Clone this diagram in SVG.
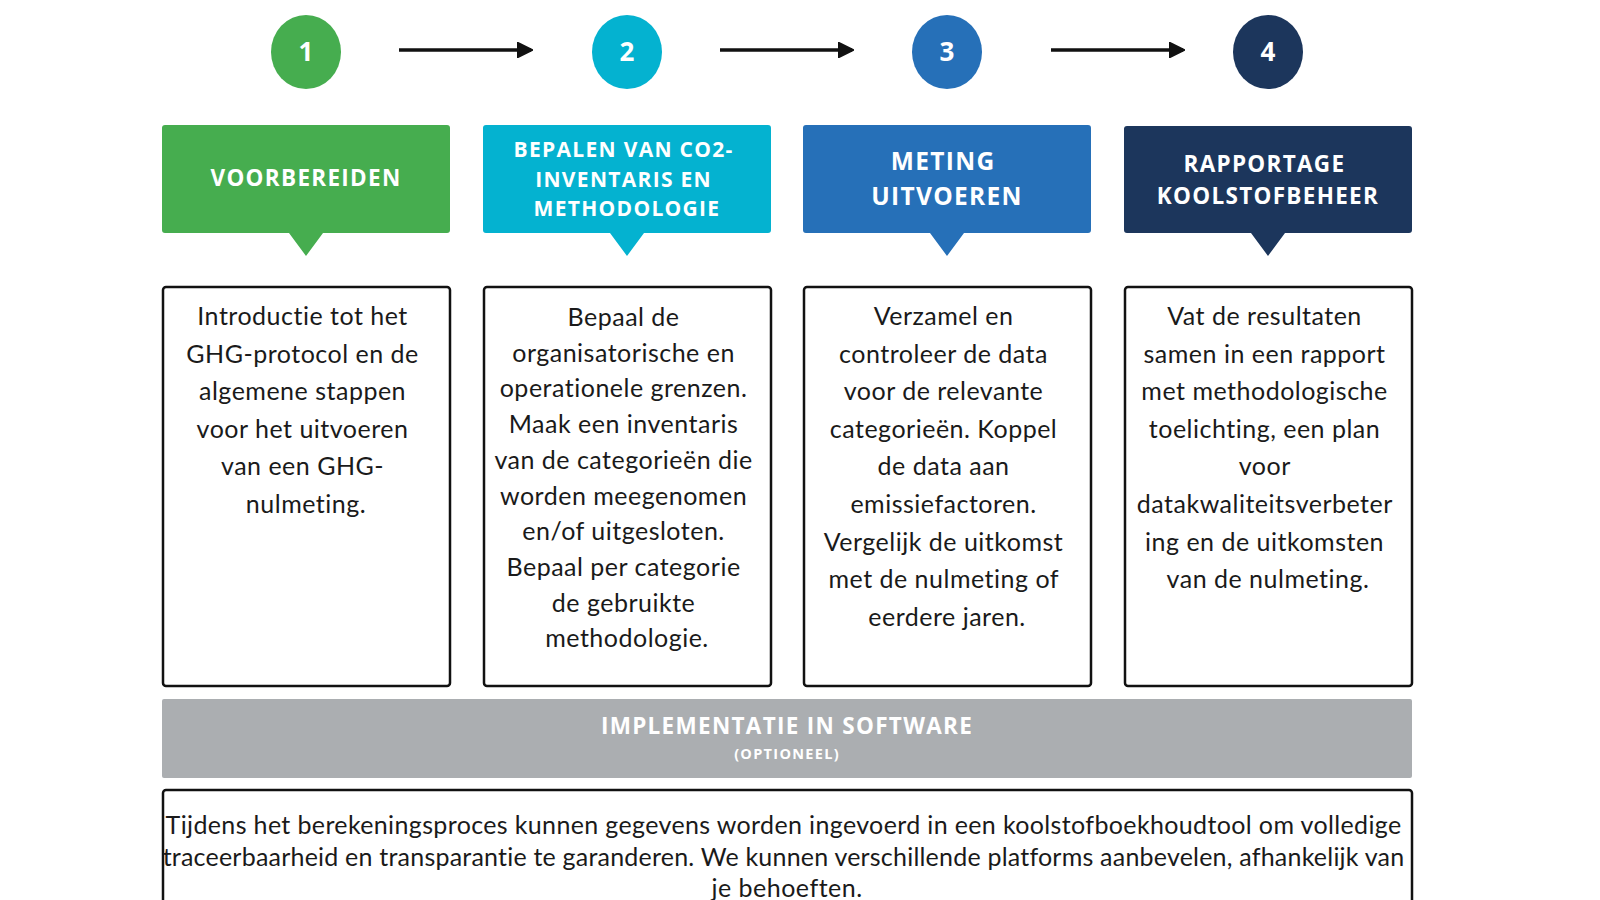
<svg xmlns="http://www.w3.org/2000/svg" width="1600" height="900" viewBox="0 0 1600 900">
<defs>
<marker id="ah" viewBox="0 0 10 10" refX="9" refY="5" markerWidth="4.5" markerHeight="4.5" orient="auto" markerUnits="strokeWidth">
<path d="M0,0 L10,5 L0,10 z" fill="#111" stroke="#111" stroke-width="1" stroke-linejoin="round"/>
</marker>
<style>
.num{font-family:"Open Sans","Liberation Sans",sans-serif;font-weight:700;font-size:26px;fill:#fff;text-anchor:middle}
.hd{font-family:"Open Sans","Liberation Sans",sans-serif;font-weight:700;fill:#fff;text-anchor:middle;letter-spacing:1.3px}
.box{fill:#fff;stroke:#111;stroke-width:2.5}
.body{font-family:Lato,"Noto Sans",sans-serif;font-size:25px;letter-spacing:0.5px;fill:#1a1a1a;text-anchor:middle}
.conn{stroke:#111;stroke-width:3.5;fill:none}
</style>
</defs>
<rect width="1600" height="900" fill="#fff"/>
<g id="connectors">
<line class="conn" x1="399" y1="50" x2="531" y2="50" marker-end="url(#ah)"/>
<line class="conn" x1="720" y1="50" x2="852" y2="50" marker-end="url(#ah)"/>
<line class="conn" x1="1051" y1="50" x2="1183" y2="50" marker-end="url(#ah)"/>
</g>
<g id="step1">
<ellipse cx="306" cy="52" rx="35" ry="37" fill="#46ad4f"/>
<text class="num" x="306" y="61">1</text>
<path d="M165,125 h282 a3,3 0 0 1 3,3 v102 a3,3 0 0 1 -3,3 h-124 l-17,23 l-17,-23 h-124 a3,3 0 0 1 -3,-3 v-102 a3,3 0 0 1 3,-3 z" fill="#46ad4f"/>
<text class="hd" x="306" y="186" font-size="22.5">VOORBEREIDEN</text>
<rect class="box" x="163" y="287" width="287" height="399" rx="3"/>
<text class="body">
<tspan x="306" y="325">Introductie tot het</tspan>
<tspan x="306" y="362.6">GHG-protocol en de</tspan>
<tspan x="306" y="400.2">algemene stappen</tspan>
<tspan x="306" y="437.8">voor het uitvoeren</tspan>
<tspan x="306" y="475.4">van een GHG-</tspan>
<tspan x="306" y="513">nulmeting.</tspan>
</text>
</g>
<g id="step2">
<ellipse cx="627" cy="52" rx="35" ry="37" fill="#04b2d0"/>
<text class="num" x="627" y="61">2</text>
<path d="M486,125 h282 a3,3 0 0 1 3,3 v102 a3,3 0 0 1 -3,3 h-124 l-17,23 l-17,-23 h-124 a3,3 0 0 1 -3,-3 v-102 a3,3 0 0 1 3,-3 z" fill="#04b2d0"/>
<text class="hd" font-size="21">
<tspan x="627" y="157">BEPALEN VAN CO2-</tspan>
<tspan x="627" y="187">INVENTARIS EN</tspan>
<tspan x="627" y="216">METHODOLOGIE</tspan>
</text>
<rect class="box" x="484" y="287" width="287" height="399" rx="3"/>
<text class="body">
<tspan x="627" y="326">Bepaal de</tspan>
<tspan x="627" y="361.7">organisatorische en</tspan>
<tspan x="627" y="397.4">operationele grenzen.</tspan>
<tspan x="627" y="433.1">Maak een inventaris</tspan>
<tspan x="627" y="468.8">van de categorieën die</tspan>
<tspan x="627" y="504.5">worden meegenomen</tspan>
<tspan x="627" y="540.2">en/of uitgesloten.</tspan>
<tspan x="627" y="575.9">Bepaal per categorie</tspan>
<tspan x="627" y="611.6">de gebruikte</tspan>
<tspan x="627" y="647.3">methodologie.</tspan>
</text>
</g>
<g id="step3">
<ellipse cx="947" cy="52" rx="35" ry="37" fill="#2670b8"/>
<text class="num" x="947" y="61">3</text>
<path d="M806,125 h282 a3,3 0 0 1 3,3 v102 a3,3 0 0 1 -3,3 h-124 l-17,23 l-17,-23 h-124 a3,3 0 0 1 -3,-3 v-102 a3,3 0 0 1 3,-3 z" fill="#2670b8"/>
<text class="hd" font-size="24.5">
<tspan x="947" y="170">METING</tspan>
<tspan x="947" y="205">UITVOEREN</tspan>
</text>
<rect class="box" x="804" y="287" width="287" height="399" rx="3"/>
<text class="body">
<tspan x="947" y="325">Verzamel en</tspan>
<tspan x="947" y="362.6">controleer de data</tspan>
<tspan x="947" y="400.2">voor de relevante</tspan>
<tspan x="947" y="437.8">categorieën. Koppel</tspan>
<tspan x="947" y="475.4">de data aan</tspan>
<tspan x="947" y="513">emissiefactoren.</tspan>
<tspan x="947" y="550.6">Vergelijk de uitkomst</tspan>
<tspan x="947" y="588.2">met de nulmeting of</tspan>
<tspan x="947" y="625.8">eerdere jaren.</tspan>
</text>
</g>
<g id="step4">
<ellipse cx="1268" cy="52" rx="35" ry="37" fill="#1c365c"/>
<text class="num" x="1268" y="61">4</text>
<path d="M1127,126 h282 a3,3 0 0 1 3,3 v101 a3,3 0 0 1 -3,3 h-124 l-17,23 l-17,-23 h-124 a3,3 0 0 1 -3,-3 v-101 a3,3 0 0 1 3,-3 z" fill="#1c365c"/>
<text class="hd" font-size="22.5">
<tspan x="1268" y="172">RAPPORTAGE</tspan>
<tspan x="1268" y="204">KOOLSTOFBEHEER</tspan>
</text>
<rect class="box" x="1125" y="287" width="287" height="399" rx="3"/>
<text class="body">
<tspan x="1268" y="325">Vat de resultaten</tspan>
<tspan x="1268" y="362.6">samen in een rapport</tspan>
<tspan x="1268" y="400.2">met methodologische</tspan>
<tspan x="1268" y="437.8">toelichting, een plan</tspan>
<tspan x="1268" y="475.4">voor</tspan>
<tspan x="1268" y="513">datakwaliteitsverbeter</tspan>
<tspan x="1268" y="550.6">ing en de uitkomsten</tspan>
<tspan x="1268" y="588.2">van de nulmeting.</tspan>
</text>
</g>
<g id="software">
<rect x="162" y="699" width="1250" height="79" rx="2" fill="#abaeb1"/>
<text class="hd" x="787" y="734" font-size="22.5">IMPLEMENTATIE IN SOFTWARE</text>
<text class="hd" x="787" y="759" font-size="14.5" letter-spacing="1.2">(OPTIONEEL)</text>
</g>
<g id="description">
<rect class="box" x="163" y="790" width="1249" height="130" rx="3"/>
<text class="body" font-size="22" letter-spacing="0.4">
<tspan x="787" y="834" textLength="1236" lengthAdjust="spacing">Tijdens het berekeningsproces kunnen gegevens worden ingevoerd in een koolstofboekhoudtool om volledige</tspan>
<tspan x="787" y="866" textLength="1242" lengthAdjust="spacing">traceerbaarheid en transparantie te garanderen. We kunnen verschillende platforms aanbevelen, afhankelijk van</tspan>
<tspan x="787" y="897">je behoeften.</tspan>
</text>
</g>
</svg>
